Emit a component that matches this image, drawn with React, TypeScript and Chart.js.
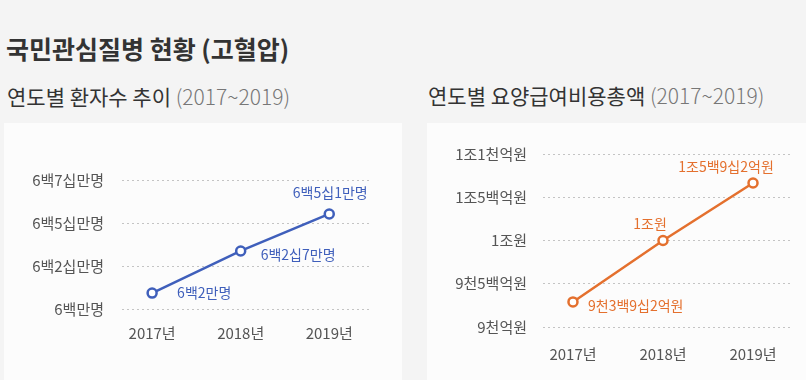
import React, { useEffect, useRef } from "react";
import { Chart, registerables } from "chart.js";

Chart.register(...registerables);

const FONT = "'Noto Sans CJK KR', 'Noto Sans', sans-serif";

// ---- data ----
const years = ["2017년", "2018년", "2019년"];

// left chart: tick labels are evenly spaced; values read in tick-position units
const patientTickValues = [0, 1, 2, 3];
const patientTickLabels = ["6백만명", "6백2십만명", "6백5십만명", "6백7십만명"];
const patientValues = [0.37, 1.35, 2.21];
const patientLabels = ["6백2만명", "6백2십7만명", "6백5십1만명"];

// right chart (억원)
const costTickValues = [9000, 9500, 10000, 10500, 11000];
const costTickLabels = ["9천억원", "9천5백억원", "1조원", "1조5백억원", "1조1천억원"];
const costValues = [9290, 10000, 10665];
const costLabels = ["9천3백9십2억원", "1조원", "1조5백9십2억원"];

type Off = { dx: number; dy: number; align: CanvasTextAlign };

const patientOffsets: Off[] = [
  { dx: 25, dy: 0, align: "left" },
  { dx: 20, dy: 4, align: "left" },
  { dx: 1, dy: -21, align: "center" },
];
const costOffsets: Off[] = [
  { dx: 15, dy: 4, align: "left" },
  { dx: -13, dy: -17, align: "center" },
  { dx: -27, dy: -16, align: "center" },
];

type Props = {
  width: number;
  height: number;
  xMin: number;
  xMax: number;
  yTickValues: number[];
  yTickLabels: string[];
  values: number[];
  labels: string[];
  offsets: Off[];
  color: string;
  yAxisWidth: number;
  xAxisHeight: number;
  padTop: number;
  padRight: number;
  yTickPad: number;
  xTickPad: number;
};

function LineChart(p: Props) {
  const ref = useRef<HTMLCanvasElement>(null);
  useEffect(() => {
    if (!ref.current) return;
    const labelPlugin = {
      id: "pointLabels",
      afterDatasetsDraw(chart: any) {
        const ctx = chart.ctx;
        const meta = chart.getDatasetMeta(0);
        ctx.save();
        ctx.font = `14px ${FONT}`;
        ctx.fillStyle = p.color;
        ctx.textBaseline = "middle";
        meta.data.forEach((el: any, i: number) => {
          const o = p.offsets[i];
          ctx.textAlign = o.align;
          ctx.fillText(p.labels[i], el.x + o.dx, el.y + o.dy);
        });
        ctx.restore();
      },
    };
    const chart = new Chart(ref.current, {
      type: "line",
      data: {
        datasets: [
          {
            data: p.values.map((v, i) => ({ x: i, y: v })),
            borderColor: p.color,
            borderWidth: 2.5,
            pointRadius: 4.5,
            pointBorderWidth: 2.5,
            pointBackgroundColor: "#ffffff",
            pointBorderColor: p.color,
            tension: 0,
            clip: false,
          } as any,
        ],
      },
      options: {
        responsive: false,
        animation: false,
        events: [],
        layout: { padding: { top: p.padTop, right: p.padRight, left: 0, bottom: 0 } },
        plugins: { legend: { display: false }, tooltip: { enabled: false } },
        scales: {
          x: {
            type: "linear",
            min: p.xMin,
            max: p.xMax,
            grid: { display: false, drawTicks: false },
            border: { display: false },
            afterBuildTicks: (axis: any) => {
              axis.ticks = years.map((_, i) => ({ value: i }));
            },
            afterFit: (axis: any) => {
              axis.height = p.xAxisHeight;
            },
            ticks: {
              padding: p.xTickPad,
              color: "#555555",
              font: { size: 15, family: FONT },
              maxRotation: 0,
              autoSkip: false,
              callback: (v: any) => years[Math.round(Number(v))] ?? "",
            },
          },
          y: {
            type: "linear",
            min: p.yTickValues[0],
            max: p.yTickValues[p.yTickValues.length - 1],
            grid: { color: "#c4c4c4", lineWidth: 1, drawTicks: false },
            border: { display: false, dash: [2, 3] },
            afterBuildTicks: (axis: any) => {
              axis.ticks = p.yTickValues.map((v) => ({ value: v }));
            },
            afterFit: (axis: any) => {
              axis.width = p.yAxisWidth;
            },
            ticks: {
              padding: p.yTickPad,
              color: "#555555",
              font: { size: 15, family: FONT },
              autoSkip: false,
              callback: (v: any) => {
                const idx = p.yTickValues.indexOf(Number(v));
                return idx >= 0 ? p.yTickLabels[idx] : "";
              },
            },
          },
        },
      },
      plugins: [labelPlugin],
    });
    return () => chart.destroy();
  }, []);
  return <canvas ref={ref} width={p.width} height={p.height} style={{ display: "block" }} />;
}

export default function App() {
  useEffect(() => {
    document.body.style.margin = "0";
  }, []);
  const sub = (main: string) => (
    <>
      <span style={{ color: "#333333" }}>{main}</span>{" "}
      <span style={{ color: "#777777", fontWeight: 300 }}>(2017~2019)</span>
    </>
  );
  return (
    <div
      style={{
        position: "relative",
        width: 806,
        height: 380,
        background: "#f4f4f4",
        fontFamily: FONT,
        overflow: "hidden",
      }}
    >
      <div
        style={{
          position: "absolute",
          left: 6,
          top: 33,
          fontSize: 25,
          lineHeight: "30px",
          fontWeight: 700,
          color: "#333333",
          whiteSpace: "nowrap",
        }}
      >
        국민관심질병 현황 (고혈압)
      </div>
      <div
        style={{
          position: "absolute",
          left: 7,
          top: 83,
          fontSize: 21,
          lineHeight: "26px",
          whiteSpace: "nowrap",
        }}
      >
        {sub("연도별 환자수 추이")}
      </div>
      <div
        style={{
          position: "absolute",
          left: 428,
          top: 82,
          fontSize: 21,
          lineHeight: "26px",
          whiteSpace: "nowrap",
        }}
      >
        {sub("연도별 요양급여비용총액")}
      </div>
      <div style={{ position: "absolute", left: 4, top: 123, width: 398, height: 257, background: "#fcfcfc" }}>
        <LineChart
          width={398}
          height={257}
          xMin={-0.34}
          xMax={2.46}
          yTickValues={patientTickValues}
          yTickLabels={patientTickLabels}
          values={patientValues}
          labels={patientLabels}
          offsets={patientOffsets}
          color="#3f5fbb"
          yAxisWidth={118}
          xAxisHeight={71}
          padTop={57}
          padRight={32}
          yTickPad={18}
          xTickPad={15}
        />
      </div>
      <div style={{ position: "absolute", left: 427, top: 123, width: 379, height: 257, background: "#fcfcfc" }}>
        <LineChart
          width={379}
          height={257}
          xMin={-0.333}
          xMax={2.433}
          yTickValues={costTickValues}
          yTickLabels={costTickLabels}
          values={costValues}
          labels={costLabels}
          offsets={costOffsets}
          color="#e4702e"
          yAxisWidth={116}
          xAxisHeight={53}
          padTop={31}
          padRight={14}
          yTickPad={16}
          xTickPad={18}
        />
      </div>
    </div>
  );
}
